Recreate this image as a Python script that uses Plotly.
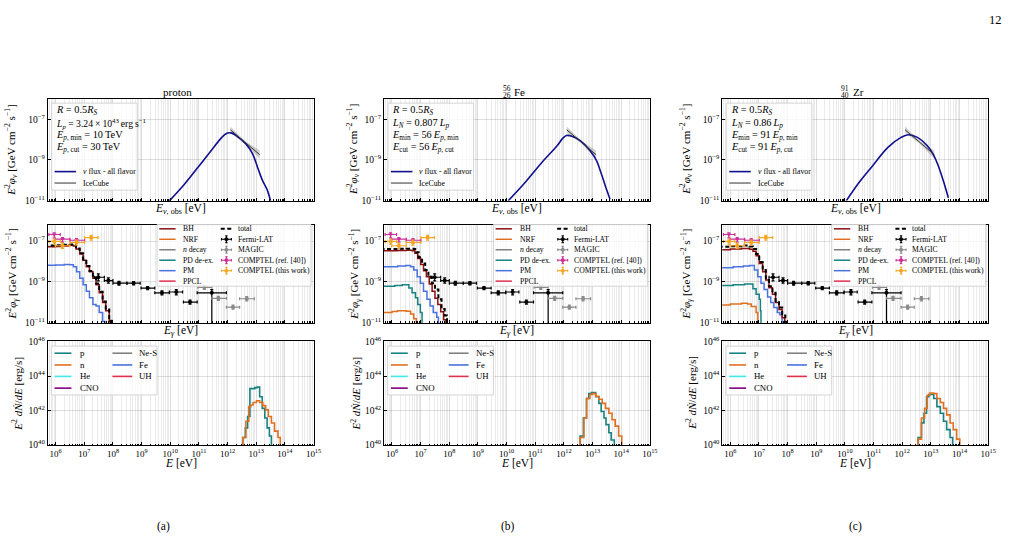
import numpy as np
import plotly.graph_objects as go

W, H = 1019, 546
FONT = "Liberation Serif"


def px(x):
    return x / W


def py(y):
    return 1 - y / H


# ---------------- panel geometry (pixels) ----------------
COLS = [(48, 316), (387, 655), (728, 996)]
ROWS = [(94, 198), (223, 323), (342, 448)]
XR = [5.72, 15.0]
YR = [[-11, -6], [-11, -6.22], [40, 46]]

# ---------------- top row: neutrino flux (log10 E [eV], log10 E^2 phi) ----------------
nu_a_logE = [9.97, 10.48, 10.94, 11.39, 11.73, 11.9, 12.0, 12.15, 12.3, 12.64, 12.87, 13.04, 13.21, 13.38, 13.5]
nu_a_logF = [-11.01, -10.22, -9.41, -8.61, -8.0, -7.76, -7.67, -7.68, -7.8, -8.21, -8.69, -9.33, -9.98, -10.46, -11.01]
nu_b_logE = [10.06, 10.63, 11.2, 11.77, 11.95, 12.09, 12.25, 12.57, 12.91, 13.13, 13.3, 13.45, 13.61]
nu_b_logF = [-11.0, -10.13, -9.17, -8.29, -7.95, -7.8, -7.82, -8.05, -8.53, -9.01, -9.65, -10.29, -10.93]
nu_c_logE = [10.05, 10.48, 10.94, 11.51, 11.96, 12.21, 12.53, 12.87, 13.1, 13.27, 13.44, 13.61]
nu_c_logF = [-11.0, -10.13, -9.33, -8.37, -7.89, -7.76, -7.89, -8.29, -8.77, -9.33, -10.05, -10.86]

# IceCube best fit and band
ic_logE = [12.1, 12.6, 13.12]
ic_logF = [-7.52, -8.12, -8.74]
ic_lo = [-7.68, -8.19, -8.94]
ic_hi = [-7.36, -8.05, -8.54]

# ---------------- middle row: gamma-ray components (step edges, log10) ----------------
# panel a (proton)
bh_a_logE = [5.6, 6.0, 6.2, 6.44, 6.62, 6.71, 6.84, 6.96, 7.07, 7.18, 7.30, 7.41, 7.52, 7.64, 7.75, 7.87, 7.95]
bh_a_logF = [-7.28, -7.26, -7.24, -7.21, -7.24, -7.39, -7.63, -7.94, -8.26, -8.5, -8.82, -9.13, -9.53, -10.0, -10.4, -10.96, -12]
tot_a_logE = [5.6, 6.0, 6.2, 6.44, 6.62, 6.71, 6.84, 6.96, 7.07, 7.18, 7.30, 7.41, 7.52, 7.64, 7.75, 7.87, 7.95]
tot_a_logF = [-7.22, -7.2, -7.18, -7.17, -7.19, -7.36, -7.6, -7.9, -8.22, -8.46, -8.78, -9.08, -9.48, -9.95, -10.35, -10.9, -12]
pm_a_logE = [5.6, 6.0, 6.3, 6.5, 6.62, 6.73, 6.84, 6.96, 7.07, 7.18, 7.30, 7.41, 7.52, 7.64, 7.72]
pm_a_logF = [-8.18, -8.17, -8.15, -8.16, -8.26, -8.5, -8.82, -9.13, -9.45, -9.77, -10.1, -10.17, -10.49, -10.93, -12]

# panel b (Fe)
tot_b_logE = [5.6, 6.2, 6.5, 6.76, 6.85, 6.93, 7.05, 7.16, 7.27, 7.39, 7.50, 7.62, 7.73, 7.84, 7.92]
tot_b_logF = [-7.39, -7.38, -7.37, -7.39, -7.55, -7.79, -8.1, -8.42, -8.74, -9.06, -9.37, -9.85, -10.32, -10.64, -12]
bh_b_logE = [5.6, 6.2, 6.5, 6.7, 6.8, 6.9, 7.0, 7.1, 7.2, 7.3, 7.4, 7.5, 7.6, 7.7, 7.8, 7.88]
bh_b_logF = [-7.47, -7.46, -7.45, -7.47, -7.6, -7.85, -8.15, -8.45, -8.75, -9.1, -9.45, -9.8, -10.1, -10.45, -10.85, -12]
pm_b_logE = [5.6, 6.2, 6.48, 6.65, 6.76, 6.88, 6.99, 7.1, 7.22, 7.33, 7.44, 7.56, 7.62]
pm_b_logF = [-8.26, -8.22, -8.2, -8.26, -8.42, -8.74, -9.06, -9.45, -9.85, -10.17, -10.49, -10.72, -12]
pd_b_logE = [5.6, 6.1, 6.36, 6.59, 6.7, 6.82, 6.9, 6.99, 7.05]
pd_b_logF = [-9.21, -9.17, -9.13, -9.29, -9.53, -9.77, -10.1, -10.49, -12]
nrf_b_logE = [5.6, 6.0, 6.19, 6.5, 6.65, 6.76, 6.85]
nrf_b_logF = [-10.49, -10.44, -10.4, -10.43, -10.56, -10.8, -12]

# panel c (Zr)
tot_c_logE = [5.6, 6.0, 6.39, 6.67, 6.79, 6.9, 7.01, 7.13, 7.24, 7.35, 7.47, 7.58, 7.7, 7.81, 7.92]
tot_c_logF = [-7.28, -7.25, -7.22, -7.26, -7.39, -7.63, -8.02, -8.42, -8.82, -9.21, -9.53, -9.93, -10.25, -10.64, -12]
bh_c_logE = [5.6, 6.0, 6.39, 6.67, 6.79, 6.9, 7.01, 7.13, 7.24, 7.35, 7.47, 7.58, 7.7, 7.81, 7.9]
bh_c_logF = [-7.42, -7.39, -7.36, -7.4, -7.5, -7.72, -8.1, -8.5, -8.9, -9.28, -9.6, -10.0, -10.35, -10.75, -12]
pm_c_logE = [5.6, 6.1, 6.45, 6.67, 6.84, 6.96, 7.07, 7.18, 7.3, 7.41, 7.52, 7.64, 7.73, 7.81]
pm_c_logF = [-8.31, -8.26, -8.22, -8.2, -8.42, -8.74, -9.06, -9.37, -9.74, -10.0, -10.25, -10.49, -10.6, -12]
pd_c_logE = [5.6, 6.1, 6.5, 6.79, 6.9, 7.01, 7.05, 7.07]
pd_c_logF = [-9.17, -9.13, -9.1, -9.33, -9.6, -9.85, -10.4, -12]
nrf_c_logE = [5.6, 6.0, 6.39, 6.6, 6.73, 6.9, 6.96]
nrf_c_logF = [-10.13, -10.08, -10.04, -10.08, -10.2, -10.49, -12]

# ---------------- observations (log10 E, log10 E^2 phi, x-bin edges, y error ends) ----------------
fermi_logE = [7.49, 7.84, 8.21, 8.72, 9.21, 9.71, 10.21, 10.69, 11.45]
fermi_logF = [-8.77, -8.93, -9.06, -9.06, -9.3, -9.53, -9.49, -9.98, -9.53]
fermi_xlo = [7.35, 7.70, 8.00, 8.49, 8.98, 9.46, 9.97, 10.46, 10.94]
fermi_xhi = [7.70, 8.00, 8.49, 8.95, 9.46, 9.97, 10.43, 10.94, 11.96]
fermi_ylo = [-8.95, -9.06, -9.15, -9.14, -9.38, -9.63, -9.63, -10.08, -13.0]
fermi_yhi = [-8.6, -8.8, -8.97, -8.98, -9.22, -9.43, -9.37, -9.88, -9.37]

magic_logE = [11.19, 11.68, 12.19, 12.67]
magic_logF = [-9.26, -9.8, -10.23, -9.82]
magic_xlo = [10.96, 11.45, 11.96, 12.42]
magic_xhi = [11.45, 11.96, 12.42, 12.93]
magic_ylo = [-9.36, -9.9, -10.33, -9.92]
magic_yhi = [-9.16, -9.7, -10.13, -9.72]

comp40_logE = [5.95, 6.24, 6.73]
comp40_logF = [-6.68, -6.91, -6.96]
comp40_xlo = [5.76, 5.99, 6.5]
comp40_xhi = [6.16, 6.5, 7.01]
comp40_ylo = [-6.85, -7.05, -7.1]
comp40_yhi = [-6.6, -6.83, -6.88]

compTW_logE = [5.96, 6.24, 6.73, 7.24]
compTW_logF = [-7.02, -7.23, -7.07, -6.83]
compTW_xlo = [5.76, 5.99, 6.5, 7.01]
compTW_xhi = [6.16, 6.5, 7.01, 7.48]
compTW_ylo = [-7.15, -7.36, -7.2, -6.95]
compTW_yhi = [-6.9, -7.1, -6.95, -6.72]

# ---------------- bottom row: nucleon spectra (step edges, log10) ----------------
p_a_logE = [12.4, 12.53, 12.62, 12.70, 12.78, 12.95, 13.03, 13.12, 13.21, 13.30, 13.38, 13.46, 13.53]
p_a_logN = [38, 40.44, 41.0, 41.66, 43.27, 43.33, 43.36, 42.8, 42.13, 41.57, 41.0, 40.53, 38]
n_a_logE = [12.4, 12.53, 12.64, 12.74, 12.81, 12.89, 13.01, 13.12, 13.23, 13.33, 13.42, 13.53, 13.64, 13.76, 13.84]
n_a_logN = [38, 40.44, 41.38, 42.23, 42.32, 42.47, 42.57, 42.47, 42.29, 42.04, 41.66, 41.28, 40.81, 40.44, 38]
p_b_logE = [12.4, 12.565, 12.68, 12.79, 12.87, 12.96, 13.11, 13.22, 13.30, 13.40, 13.47, 13.57, 13.65, 13.76]
p_b_logN = [38, 40.53, 41.57, 42.7, 42.98, 43.04, 42.8, 42.42, 41.95, 41.57, 41.19, 40.72, 40.3, 38]
n_b_logE = [12.4, 12.565, 12.70, 12.79, 12.91, 13.0, 13.11, 13.22, 13.34, 13.45, 13.57, 13.68, 13.79, 13.91, 14.02]
n_b_logN = [38, 40.44, 41.57, 42.7, 42.94, 42.98, 42.83, 42.66, 42.42, 42.13, 41.85, 41.47, 41.1, 40.53, 38]
p_c_logE = [12.4, 12.553, 12.67, 12.76, 12.85, 12.93, 13.1, 13.21, 13.33, 13.44, 13.55, 13.67, 13.76]
p_c_logN = [38, 40.44, 41.29, 41.85, 42.8, 42.93, 42.7, 42.23, 41.85, 41.38, 40.9, 40.44, 38]
n_c_logE = [12.4, 12.553, 12.67, 12.78, 12.87, 12.96, 13.1, 13.21, 13.33, 13.44, 13.55, 13.67, 13.78, 13.9, 14.01]
n_c_logN = [38, 40.35, 41.57, 42.13, 42.89, 43.02, 42.98, 42.7, 42.47, 42.13, 41.75, 41.28, 40.9, 40.35, 38]

# ---------------- text ----------------
TS = "\u2009"  # thin space (math-style spacing)
titles = ["proton", "Fe", "Zr"]
title_pre = [None, ("56", "26"), ("91", "40")]
captions = ["(a)", "(b)", "(c)"]
param_text = [
    ["<i>R</i> = 0.5<i>R</i><sub><i>S</i></sub>",
     f"<i>L</i><sub><i>p</i></sub> = 3.24{TS}×{TS}10<sup>43</sup>{TS}erg{TS}s<sup>−1</sup>",
     f"<i>E</i><sub><i>p</i>, min</sub> = 10{TS}TeV",
     f"<i>E</i><sub><i>p</i>, cut</sub> = 30{TS}TeV"],
    ["<i>R</i> = 0.5<i>R</i><sub><i>S</i></sub>",
     f"<i>L</i><sub><i>N</i></sub> = 0.807{TS}<i>L</i><sub><i>p</i></sub>",
     f"<i>E</i><sub>min</sub> = 56{TS}<i>E</i><sub><i>p</i>, min</sub>",
     f"<i>E</i><sub>cut</sub> = 56{TS}<i>E</i><sub><i>p</i>, cut</sub>"],
    ["<i>R</i> = 0.5<i>R</i><sub><i>S</i></sub>",
     f"<i>L</i><sub><i>N</i></sub> = 0.86{TS}<i>L</i><sub><i>p</i></sub>",
     f"<i>E</i><sub>min</sub> = 91{TS}<i>E</i><sub><i>p</i>, min</sub>",
     f"<i>E</i><sub>cut</sub> = 91{TS}<i>E</i><sub><i>p</i>, cut</sub>"],
]
param_size = [[10.3, 9.7, 10.3, 10.3], [10.3, 10.3, 10.3, 10.3], [10.3, 10.3, 10.3, 10.3]]
x_tick_exp = list(range(6, 16))
y_tick_exp = [[-11, -9, -7], [-11, -9, -7], [40, 42, 44, 46]]
ylabels = [
    "<i>E</i><sup>2</sup><i>φ</i><sub><i>ν</i></sub> [GeV cm<sup>−2</sup> s<sup>−1</sup>]",
    "<i>E</i><sup>2</sup><i>φ</i><sub><i>γ</i></sub> [GeV cm<sup>−2</sup> s<sup>−1</sup>]",
    "<i>E</i><sup>2</sup> <i>dṄ</i>/<i>dE</i> [erg/s]",
]
xlabels = ["<i>E</i><sub><i>ν</i>, obs</sub> [eV]", "<i>E</i><sub><i>γ</i></sub> [eV]", "<i>E</i> [eV]"]
ylabel_x = [[11, 12.5, 17.5], [356, 357.5, 359], [691.5, 692, 697]]
xlabel_y = [207, 331, 466]

# ---------------- colours ----------------
C_NU = "#10108f"
C_BH = "#8b1010"
C_NRF = "#e07020"
C_NDEC = "#808080"
C_PD = "#168282"
C_PM = "#4a72e0"
C_PPCL = "#e03050"
C_HE = "#40e8e8"
C_CNO = "#800080"
C_FERMI = "black"
C_MAGIC = "#8a8a8a"
C_C40 = "#cc2c96"
C_CTW = "#f5a623"

fig = go.Figure()
shapes = []
annotations = []


def names(n):
    return ("x" if n == 1 else f"x{n}"), ("y" if n == 1 else f"y{n}")


def pw(v):
    return [10.0 ** a for a in v]


def add_line(n, le, lf, color, width=1.5, dash="solid", shape="hv"):
    xn, yn = names(n)
    fig.add_trace(go.Scatter(x=pw(le), y=pw(lf), mode="lines",
                             line=dict(color=color, width=width, dash=dash, shape=shape),
                             xaxis=xn, yaxis=yn, showlegend=False, hoverinfo="skip"))


def add_err(n, le, lf, xlo, xhi, ylo, yhi, color, symbol="circle", size=4):
    xn, yn = names(n)
    x = pw(le)
    y = pw(lf)
    fig.add_trace(go.Scatter(
        x=x, y=y, mode="markers",
        marker=dict(color=color, size=size, symbol=symbol),
        error_x=dict(type="data", symmetric=False,
                     array=[10 ** b - a for a, b in zip(x, xhi)],
                     arrayminus=[a - 10 ** b for a, b in zip(x, xlo)],
                     color=color, thickness=1.2, width=1.5),
        error_y=dict(type="data", symmetric=False,
                     array=[10 ** b - a for a, b in zip(y, yhi)],
                     arrayminus=[a - 10 ** b for a, b in zip(y, ylo)],
                     color=color, thickness=1.2, width=1.5),
        xaxis=xn, yaxis=yn, showlegend=False, hoverinfo="skip"))


# ---------------- axes ----------------
layout = {}
minor_vals = [k * 10.0 ** e for e in range(5, 16) for k in range(2, 10)]
for r in range(3):
    for c in range(3):
        n = r * 3 + c + 1
        x0, x1 = COLS[c]
        y0, y1 = ROWS[r]
        xn, yn = names(n)
        xa = "xaxis" if n == 1 else f"xaxis{n}"
        ya = "yaxis" if n == 1 else f"yaxis{n}"
        layout[xa] = dict(
            type="log", range=XR, domain=[px(x0), px(x1)], anchor=yn,
            showline=True, linecolor="black", linewidth=1, mirror=True,
            ticks="inside", ticklen=3, tickwidth=0.8, tickcolor="black",
            tickmode="array", tickvals=[10.0 ** e for e in x_tick_exp],
            ticktext=[f"10<sup>{e}</sup>" for e in x_tick_exp],
            showticklabels=(r == 2),
            tickfont=dict(family=FONT, size=9, color="black"),
            showgrid=True, gridcolor="rgba(0,0,0,0.13)", gridwidth=0.8,
            minor=dict(tickmode="array", tickvals=minor_vals, ticks="inside", ticklen=1.6,
                       tickcolor="black", tickwidth=0.6,
                       showgrid=True, gridcolor="rgba(0,0,0,0.08)", gridwidth=0.8),
            zeroline=False, fixedrange=True,
        )
        ye = y_tick_exp[r]
        layout[ya] = dict(
            type="log", range=YR[r], domain=[py(y1), py(y0)], anchor=xn,
            showline=True, linecolor="black", linewidth=1, mirror=True,
            ticks="inside", ticklen=3, tickwidth=0.8, tickcolor="black",
            tickmode="array", tickvals=[10.0 ** e for e in ye],
            ticktext=[f"10<sup>{str(e).replace('-', '−')}</sup>" for e in ye],
            tickfont=dict(family=FONT, size=9.5, color="black"),
            showgrid=True, gridcolor="rgba(0,0,0,0.12)", gridwidth=0.8,
            zeroline=False, fixedrange=True,
        )

# ---------------- top row traces ----------------
nu_sets = [(nu_a_logE, nu_a_logF), (nu_b_logE, nu_b_logF), (nu_c_logE, nu_c_logF)]
for c in range(3):
    n = c + 1
    xn, yn = names(n)
    # IceCube band
    fig.add_trace(go.Scatter(x=pw(ic_logE) + pw(ic_logE[::-1]), y=pw(ic_hi) + pw(ic_lo[::-1]),
                             fill="toself", fillcolor="rgba(150,150,150,0.45)", mode="lines",
                             line=dict(width=0), xaxis=xn, yaxis=yn, showlegend=False, hoverinfo="skip"))
    add_line(n, nu_sets[c][0], nu_sets[c][1], C_NU, width=1.6, shape="spline")
    add_line(n, ic_logE, ic_logF, "#333333", width=1.0, shape="linear")

# ---------------- middle row traces ----------------
mid = [
    [(bh_a_logE, bh_a_logF, C_BH), (pm_a_logE, pm_a_logF, C_PM), (tot_a_logE, tot_a_logF, None)],
    [(nrf_b_logE, nrf_b_logF, C_NRF), (pd_b_logE, pd_b_logF, C_PD), (pm_b_logE, pm_b_logF, C_PM),
     (bh_b_logE, bh_b_logF, C_BH), (tot_b_logE, tot_b_logF, None)],
    [(nrf_c_logE, nrf_c_logF, C_NRF), (pd_c_logE, pd_c_logF, C_PD), (pm_c_logE, pm_c_logF, C_PM),
     (bh_c_logE, bh_c_logF, C_BH), (tot_c_logE, tot_c_logF, None)],
]
for c in range(3):
    n = 3 + c + 1
    for le, lf, col in mid[c]:
        if col is None:
            add_line(n, le, lf, "black", width=2.0, dash="4px,2.5px")
        else:
            add_line(n, le, lf, col, width=1.5)
    add_err(n, fermi_logE, fermi_logF, fermi_xlo, fermi_xhi, fermi_ylo, fermi_yhi, C_FERMI)
    add_err(n, magic_logE, magic_logF, magic_xlo, magic_xhi, magic_ylo, magic_yhi, C_MAGIC)
    add_err(n, comp40_logE, comp40_logF, comp40_xlo, comp40_xhi, comp40_ylo, comp40_yhi, C_C40,
            symbol="triangle-down")
    add_err(n, compTW_logE, compTW_logF, compTW_xlo, compTW_xhi, compTW_ylo, compTW_yhi, C_CTW)

# ---------------- bottom row traces ----------------
bot = [((p_a_logE, p_a_logN), (n_a_logE, n_a_logN)),
       ((p_b_logE, p_b_logN), (n_b_logE, n_b_logN)),
       ((p_c_logE, p_c_logN), (n_c_logE, n_c_logN))]
for c in range(3):
    n = 6 + c + 1
    add_line(n, bot[c][0][0], bot[c][0][1], C_PD, width=1.6)
    add_line(n, bot[c][1][0], bot[c][1][1], C_NRF, width=1.6)


# ---------------- manual legends ----------------
def frame(x0, y0, x1, y1):
    shapes.append(dict(type="rect", xref="paper", yref="paper", x0=px(x0), x1=px(x1),
                       y0=py(y1), y1=py(y0), layer="above",
                       fillcolor="rgba(255,255,255,0.8)", line=dict(color="#d4d4d4", width=1)))


def lline(x0, x1, y, color, width=1.5, dash="solid"):
    shapes.append(dict(type="line", xref="paper", yref="paper", x0=px(x0), x1=px(x1),
                       y0=py(y), y1=py(y), layer="above", line=dict(color=color, width=width, dash=dash)))


def vline(x, y0, y1, color, width=1.0):
    shapes.append(dict(type="line", xref="paper", yref="paper", x0=px(x), x1=px(x),
                       y0=py(y0), y1=py(y1), layer="above", line=dict(color=color, width=width)))


def ltext(x, y, text, size, anchor="left"):
    annotations.append(dict(x=px(x), y=py(y), xref="paper", yref="paper", text=text, showarrow=False,
                            xanchor=anchor, yanchor="middle",
                            font=dict(family=FONT, size=size, color="black")))


def lerr(xc, y, color):
    lline(xc - 5, xc + 5, y, color, 1.1)
    vline(xc, y - 3.5, y + 3.5, color, 1.1)
    lline(xc - 1.2, xc + 1.2, y - 3.5, color, 1.1)
    lline(xc - 1.2, xc + 1.2, y + 3.5, color, 1.1)
    vline(xc - 5, y - 1.2, y + 1.2, color, 1.1)
    vline(xc + 5, y - 1.2, y + 1.2, color, 1.1)
    shapes.append(dict(type="circle", xref="paper", yref="paper", x0=px(xc - 1.8), x1=px(xc + 1.8),
                       y0=py(y + 1.8), y1=py(y - 1.8), layer="above",
                       fillcolor=color, line=dict(color=color, width=0.5)))


for c in range(3):
    dx = COLS[c][0] - COLS[0][0]
    right = COLS[c][1]
    # top legend with parameters
    frame(52 + dx, 98.3, 138.3 + dx, 187.3)
    for t, yy, sz in zip(param_text[c], [105.5, 119.3, 131.7, 143.5], param_size[c]):
        ltext(54.5 + dx, yy, t, sz)
    lline(55 + dx, 76.7 + dx, 168.3, C_NU, 1.6)
    ltext(81.7 + dx, 168.3, "<i>ν</i> flux - all flavor", 7.8)
    lline(55 + dx, 76.7 + dx, 180, "#333333", 1.0)
    ltext(81.7 + dx, 180, "IceCube", 7.8)

    # middle legend
    frame(158.3 + dx, 222.5, right - 2.5, 285.5)
    rows = [226.8, 237.5, 248.2, 258.9, 269.6, 280.3]
    left_items = [("BH", C_BH), ("NRF", C_NRF), ("<i>n</i> decay", C_NDEC), ("PD de-ex.", C_PD),
                  ("PM", C_PM), ("PPCL", C_PPCL)]
    for (lab, col), yy in zip(left_items, rows):
        lline(160.5 + dx, 177 + dx, yy, col, 1.5)
        ltext(182.7 + dx, yy, lab, 7.7)
    lline(222.5 + dx, 234 + dx, rows[0], "black", 2.0, "4px,2.5px")
    ltext(237.7 + dx, rows[0], "total", 7.7)
    right_items = [("Fermi-LAT", C_FERMI), ("MAGIC", C_MAGIC), ("COMPTEL (ref. [40])", C_C40),
                   ("COMPTEL (this work)", C_CTW)]
    for (lab, col), yy in zip(right_items, rows[1:]):
        lerr(228.2 + dx, yy, col)
        ltext(237.7 + dx, yy, lab, 7.7)

    # bottom legend
    frame(51.7 + dx, 346.7, 158.3 + dx, 396.7)
    brows = [354, 366, 377.7, 389.7]
    for (lab, col), yy in zip([("p", C_PD), ("n", C_NRF), ("He", C_HE), ("CNO", C_CNO)], brows):
        lline(55 + dx, 72 + dx, yy, col, 1.6)
        ltext(78.3 + dx, yy, lab, 8.8)
    for (lab, col), yy in zip([("Ne-S", C_NDEC), ("Fe", C_PM), ("UH", C_PPCL)], brows):
        lline(113.3 + dx, 133.3 + dx, yy, col, 1.6)
        ltext(138.3 + dx, yy, lab, 8.8)

    # titles, labels, captions
    cx = (COLS[c][0] + COLS[c][1]) / 2
    if title_pre[c] is None:
        ltext(cx - 3, 86.5, titles[c], 11, anchor="center")
    else:
        ltext(cx + 3, 86.5, titles[c], 11, anchor="center")
        ltext(cx - 4, 83.0, title_pre[c][0], 7.5, anchor="right")
        ltext(cx - 4, 90.0, title_pre[c][1], 7.5, anchor="right")
    for r in range(3):
        ltext(cx, xlabel_y[r], xlabels[r], 11.5, anchor="center")
        yc = (ROWS[r][0] + ROWS[r][1]) / 2
        annotations.append(dict(x=px(ylabel_x[c][r]), y=py(yc), xref="paper", yref="paper",
                                text=ylabels[r], showarrow=False, textangle=-90,
                                xanchor="center", yanchor="middle",
                                font=dict(family=FONT, size=11, color="black")))
    ltext([165, 512, 862][c], 531, captions[c], 11.5, anchor="center")

ltext(1003, 13, "12", 12.5, anchor="center")

fig.update_layout(
    width=W, height=H, margin=dict(l=0, r=0, t=0, b=0),
    paper_bgcolor="white", plot_bgcolor="white",
    showlegend=False, shapes=shapes, annotations=annotations,
    font=dict(family=FONT, color="black"),
    **layout,
)
fig.write_html("out.html")
